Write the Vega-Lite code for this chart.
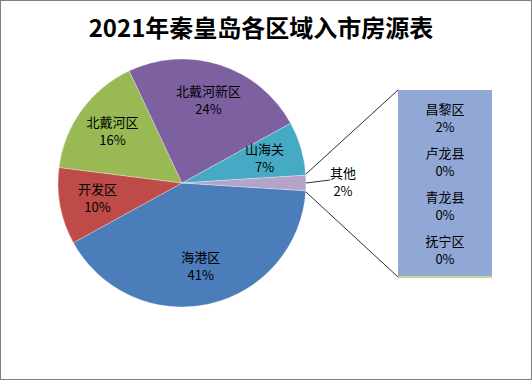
{
  "$schema": "https://vega.github.io/schema/vega-lite/v6.json",
  "width": 532,
  "height": 380,
  "autosize": {"type": "none"},
  "padding": 0,
  "background": "white",
  "config": {
    "view": {"stroke": "#808080", "strokeWidth": 2},
    "font": "Noto Sans CJK SC",
    "axis": {"disable": true}
  },
  "title": {
    "text": "2021年秦皇岛各区域入市房源表",
    "font": "Noto Sans CJK SC",
    "fontSize": 24,
    "fontWeight": "bold",
    "color": "#000000",
    "anchor": "middle",
    "frame": "group",
    "offset": -42,
    "dx": -5
  },
  "datasets": {
    "pie": [
      {"name": "海港区", "value": 0.41, "ord": 1},
      {"name": "开发区", "value": 0.10, "ord": 2},
      {"name": "北戴河区", "value": 0.16, "ord": 3},
      {"name": "北戴河新区", "value": 0.24, "ord": 4},
      {"name": "山海关", "value": 0.07, "ord": 5},
      {"name": "其他", "value": 0.02, "ord": 6}
    ],
    "bar": [
      {"name": "昌黎区", "value": 0.02, "ord": 1},
      {"name": "卢龙县", "value": 0.0, "ord": 2},
      {"name": "青龙县", "value": 0.0, "ord": 3},
      {"name": "抚宁区", "value": 0.0, "ord": 4}
    ]
  },
  "resolve": {"scale": {"y": "independent", "theta": "shared"}},
  "layer": [
    {
      "data": {"name": "pie"},
      "mark": {"type": "arc", "outerRadius": 124, "stroke": "#ffffff", "strokeWidth": 0.3},
      "encoding": {
        "theta": {"field": "value", "type": "quantitative", "stack": true, "scale": {"domain": [0, 1], "range": [1.6336, 7.9168]}},
        "order": {"field": "ord", "type": "quantitative"},
        "color": {"field": "name", "type": "nominal", "legend": null,
          "scale": {"domain": ["海港区", "开发区", "北戴河区", "北戴河新区", "山海关", "其他"],
                    "range": ["#4A7DBA", "#BE4B48", "#98B954", "#7D60A0", "#46AAC5", "#B5A4C9"]}},
        "x": {"datum": 182, "type": "quantitative", "scale": {"domain": [0, 532], "nice": false, "zero": false}},
        "y": {"datum": 183, "type": "quantitative", "scale": {"domain": [0, 380], "nice": false, "reverse": true}}
      }
    },
    {
      "data": {"name": "pie"},
      "mark": {"type": "text", "radius": 86, "fontSize": 13, "dy": -9, "color": "#000000"},
      "encoding": {
        "theta": {"field": "value", "type": "quantitative", "stack": true},
        "order": {"field": "ord", "type": "quantitative"},
        "text": {"condition": {"test": "datum.name !== '其他'", "field": "name"}, "value": ""},
        "x": {"datum": 182, "type": "quantitative"},
        "y": {"datum": 183, "type": "quantitative", "scale": {"domain": [0, 380], "nice": false, "reverse": true}}
      }
    },
    {
      "data": {"name": "pie"},
      "mark": {"type": "text", "radius": 86, "fontSize": 13, "dy": 9, "color": "#000000"},
      "encoding": {
        "theta": {"field": "value", "type": "quantitative", "stack": true},
        "order": {"field": "ord", "type": "quantitative"},
        "text": {"condition": {"test": "datum.name !== '其他'", "field": "value", "format": ".0%"}, "value": ""},
        "x": {"datum": 182, "type": "quantitative"},
        "y": {"datum": 183, "type": "quantitative", "scale": {"domain": [0, 380], "nice": false, "reverse": true}}
      }
    },
    {
      "data": {"name": "pie"},
      "mark": {"type": "text", "radius": 161, "fontSize": 13, "dy": -9, "color": "#000000"},
      "encoding": {
        "theta": {"field": "value", "type": "quantitative", "stack": true},
        "order": {"field": "ord", "type": "quantitative"},
        "text": {"condition": {"test": "datum.name === '其他'", "field": "name"}, "value": ""},
        "x": {"datum": 182, "type": "quantitative"},
        "y": {"datum": 183, "type": "quantitative", "scale": {"domain": [0, 380], "nice": false, "reverse": true}}
      }
    },
    {
      "data": {"name": "pie"},
      "mark": {"type": "text", "radius": 161, "fontSize": 13, "dy": 9, "color": "#000000"},
      "encoding": {
        "theta": {"field": "value", "type": "quantitative", "stack": true},
        "order": {"field": "ord", "type": "quantitative"},
        "text": {"condition": {"test": "datum.name === '其他'", "field": "value", "format": ".0%"}, "value": ""},
        "x": {"datum": 182, "type": "quantitative"},
        "y": {"datum": 183, "type": "quantitative", "scale": {"domain": [0, 380], "nice": false, "reverse": true}}
      }
    },
    {
      "data": {"values": [
        {"x1": 306, "y1": 174, "x2": 398, "y2": 90},
        {"x1": 306, "y1": 192, "x2": 398, "y2": 277},
        {"x1": 306, "y1": 183, "x2": 330, "y2": 180}
      ]},
      "mark": {"type": "rule", "color": "#303030", "strokeWidth": 1},
      "encoding": {
        "x": {"field": "x1", "type": "quantitative"},
        "x2": {"field": "x2"},
        "y": {"field": "y1", "type": "quantitative", "scale": {"domain": [0, 380], "nice": false, "reverse": true}},
        "y2": {"field": "y2"}
      }
    },
    {
      "data": {"name": "bar"},
      "transform": [
        {"stack": "value", "groupby": [], "sort": [{"field": "ord", "order": "descending"}], "as": ["v0", "v1"]}
      ],
      "mark": {"type": "rect"},
      "encoding": {
        "x": {"datum": 398, "type": "quantitative"},
        "x2": {"datum": 492},
        "y": {"field": "v0", "type": "quantitative", "scale": {"domain": [0, 0.02], "nice": false, "range": [277, 90]}},
        "y2": {"field": "v1"},
        "color": {"value": "#91A8D6"}
      }
    },
    {
      "data": {"name": "bar"},
      "mark": {"type": "rule", "color": "#C3D69B", "strokeWidth": 2},
      "transform": [{"filter": "datum.value === 0"}],
      "encoding": {
        "x": {"datum": 398, "type": "quantitative"},
        "x2": {"datum": 492},
        "y": {"field": "value", "type": "quantitative", "scale": {"domain": [0, 0.02], "nice": false, "range": [277, 90]}}
      }
    },
    {
      "data": {"name": "bar"},
      "mark": {"type": "text", "fontSize": 13, "dy": -9, "color": "#000000"},
      "encoding": {
        "x": {"datum": 445, "type": "quantitative"},
        "y": {"field": "name", "type": "nominal", "sort": ["昌黎区", "卢龙县", "青龙县", "抚宁区"], "scale": {"type": "point", "padding": 0, "range": [119, 251]}},
        "text": {"field": "name"}
      }
    },
    {
      "data": {"name": "bar"},
      "mark": {"type": "text", "fontSize": 13, "dy": 9, "color": "#000000"},
      "encoding": {
        "x": {"datum": 445, "type": "quantitative"},
        "y": {"field": "name", "type": "nominal", "sort": ["昌黎区", "卢龙县", "青龙县", "抚宁区"], "scale": {"type": "point", "padding": 0, "range": [119, 251]}},
        "text": {"field": "value", "format": ".0%"}
      }
    }
  ]
}
